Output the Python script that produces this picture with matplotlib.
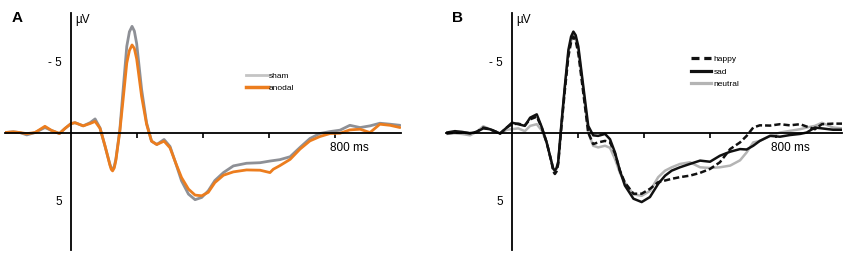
import matplotlib
matplotlib.use("Agg")
import matplotlib.pyplot as plt
from matplotlib.lines import Line2D

plt.rcParams['font.family'] = ['Liberation Sans', 'DejaVu Sans']

# ---- Panel A data (time ms, amplitude µV; negative plotted up) ----
tA = [-200, -175, -155, -134, -109, -79, -59, -35, -18, 0, 12, 37, 58, 73, 88, 103, 118,
      122, 126, 131, 136, 148, 158, 169, 177, 185, 192, 199, 214, 229, 244, 260, 282, 300,
      320, 335, 356, 376, 396, 416, 436, 462, 492, 532, 573, 603, 633, 664, 694, 724, 754,
      785, 815, 845, 876, 906, 936, 967, 997]
sham = [0, -0.05, 0, 0.17, 0, -0.36, -0.15, 0.07, -0.3, -0.64, -0.71, -0.48, -0.71, -0.98,
        -0.33, 0.98, 2.29, 2.55, 2.64, 2.45, 1.9, -0.2, -3.1, -6.2, -7.25, -7.64, -7.3, -6.4,
        -3.1, -0.7, 0.62, 0.86, 0.5, 1.0, 2.4, 3.48, 4.43, 4.83, 4.67, 4.19, 3.45, 2.88, 2.4,
        2.21, 2.17, 2.05, 1.95, 1.74, 1.07, 0.43, 0.07, -0.07, -0.17, -0.52, -0.36, -0.48,
        -0.67, -0.6, -0.52]
tA2 = [-200, -175, -155, -134, -109, -79, -59, -35, -18, 0, 12, 37, 58, 73, 88, 103, 118,
       122, 126, 131, 136, 148, 158, 169, 177, 185, 192, 199, 214, 229, 244, 260, 282, 300,
       320, 335, 356, 376, 396, 416, 436, 462, 492, 532, 573, 603, 613, 633, 664, 694, 724,
       754, 785, 815, 845, 876, 906, 936, 967, 997]
anodal = [0, -0.05, 0, 0.08, 0, -0.45, -0.15, 0.07, -0.3, -0.64, -0.71, -0.48, -0.65, -0.8,
          -0.3, 0.95, 2.35, 2.65, 2.76, 2.55, 2.0, -0.1, -2.4, -5.0, -5.9, -6.3, -6.05, -5.3,
          -2.6, -0.6, 0.62, 0.86, 0.62, 1.1, 2.35, 3.24, 4.07, 4.5, 4.55, 4.3, 3.6, 3.07,
          2.83, 2.69, 2.71, 2.88, 2.64, 2.38, 1.93, 1.19, 0.6, 0.29, 0.07, 0.05, -0.19, -0.24,
          0, -0.6, -0.52, -0.36]

# ---- Panel B data ----
tB = [-198, -173, -152, -127, -107, -87, -67, -36, -16, 0, 19, 39, 55, 75, 90, 105, 120,
      125, 130, 135, 140, 150, 160, 171, 179, 186, 193, 201, 216, 231, 246, 261, 282, 297,
      312, 327, 342, 368, 393, 418, 443, 464, 484, 509, 539, 570, 600, 630, 661, 691, 711,
      731, 751, 782, 812, 842, 873, 893, 918, 939, 973, 1000]
happy = [0.07, 0, 0, 0.05, -0.05, -0.36, -0.24, 0.07, -0.36, -0.6, -0.64, -0.52, -0.95,
         -1.14, -0.36, 0.71, 2.14, 2.8, 2.98, 2.8, 2.26, -0.5, -3.0, -5.5, -6.5, -6.9, -6.6,
         -5.7, -2.86, 0, 0.83, 0.71, 0.6, 0.7, 1.5, 2.74, 3.6, 4.4, 4.4, 4.05, 3.57, 3.45,
         3.33, 3.21, 3.1, 2.9, 2.62, 2.14, 1.19, 0.71, 0.24, -0.36, -0.52, -0.5, -0.6, -0.52,
         -0.6, -0.43, -0.24, -0.6, -0.64, -0.64]
sad = [0, -0.1, -0.05, 0.05, -0.05, -0.3, -0.24, 0.07, -0.36, -0.71, -0.6, -0.48, -1.07,
       -1.31, -0.4, 0.71, 2.14, 2.6, 2.74, 2.55, 2.1, -0.7, -3.3, -5.95, -6.9, -7.26, -7.0,
       -6.19, -3.33, -0.48, 0.2, 0.24, 0.1, 0.48, 1.43, 2.74, 3.81, 4.76, 5.0, 4.64, 3.69,
       3.1, 2.74, 2.5, 2.26, 2.02, 2.1, 1.67, 1.38, 1.19, 1.22, 0.95, 0.6, 0.24, 0.3, 0.18,
       0.1, 0, -0.36, -0.3, -0.2, -0.2]
neutral = [0.1, 0.05, 0.1, 0.2, -0.05, -0.45, -0.24, 0.07, -0.2, -0.24, -0.3, -0.1, -0.48,
           -0.6, -0.15, 0.71, 2.14, 2.6, 2.8, 2.6, 2.2, -0.6, -3.2, -5.8, -6.6, -7.0, -6.7,
           -6.0, -3.1, 0, 0.95, 1.07, 0.95, 1.1, 1.9, 2.9, 3.6, 4.45, 4.55, 4.2, 3.21, 2.74,
           2.5, 2.26, 2.14, 2.5, 2.55, 2.5, 2.38, 2.0, 1.43, 0.71, 0.6, 0.24, 0, -0.12, -0.24,
           -0.36, -0.48, -0.7, -0.36, -0.3]

tick_ms = [200, 400, 600, 800]
y_labels = {-5: "- 5", 5: "5"}

W, H = 850, 257
fig = plt.figure(figsize=(W / 100, H / 100), dpi=100)

def make_ax(left_px, right_px, letter, letter_px):
    ax = fig.add_axes([left_px / W, 7 / H, (right_px - left_px) / W, 237 / H])
    ax.set_xlim(-200, 1000)
    ax.set_ylim(8.45, -8.6)
    for s in ['top', 'right']:
        ax.spines[s].set_visible(False)
    ax.spines['left'].set_position(('data', 0))
    ax.spines['bottom'].set_position(('data', 0))
    ax.spines['left'].set_linewidth(1.3)
    ax.spines['bottom'].set_linewidth(1.3)
    ax.set_xticks(tick_ms)
    ax.set_xticklabels([])
    ax.tick_params(axis='x', direction='out', length=3.5, width=1.2)
    ax.set_yticks([])
    ax.patch.set_alpha(0)
    for v, lab in y_labels.items():
        ax.text(-28, v, lab, ha='right', va='center', fontsize=8.5)
    ax.text(12, -8.1, "µV", ha='left', va='center', fontsize=8.5)
    ax.text(785, 1.1, "800 ms", ha='left', va='center', fontsize=8.5)
    fig.text(letter_px / W, 1 - 18 / H, letter, fontsize=11, fontweight='bold',
             ha='left', va='center')
    return ax

kw = dict(solid_joinstyle='round', solid_capstyle='round')

axA = make_ax(5, 401, "A", 12)
axA.plot(tA, sham, color='#8e9096', lw=2.0, **kw)
axA.plot(tA2, anodal, color='#ec7d1e', lw=2.0, **kw)
hA = [Line2D([], [], color='#c4c4c4', lw=2.0), Line2D([], [], color='#ec7d1e', lw=2.5)]
axA.legend(hA, ['sham', 'anodal'], loc='upper left', bbox_to_anchor=(0.6, 0.765),
           frameon=False, fontsize=6, handlelength=2.6, handletextpad=0.15,
           labelspacing=0.55, borderaxespad=0)

axB = make_ax(446, 842, "B", 452)
axB.plot(tB, neutral, color='#b4b4b4', lw=1.8, **kw)
axB.plot(tB, sad, color='#111111', lw=1.8, **kw)
axB.plot(tB, happy, color='#111111', lw=1.8, ls=(0, (2.5, 1.2)), dash_joinstyle='round')
hB = [Line2D([], [], color='#111111', lw=2.3, ls=(0, (2.5, 1.5))),
      Line2D([], [], color='#111111', lw=2.3),
      Line2D([], [], color='#b4b4b4', lw=2.3)]
axB.legend(hB, ['happy', 'sad', 'neutral'], loc='upper left', bbox_to_anchor=(0.61, 0.835),
           frameon=False, fontsize=6, handlelength=2.4, handletextpad=0.3,
           labelspacing=0.55, borderaxespad=0)

fig.savefig("out.png", dpi=100)
